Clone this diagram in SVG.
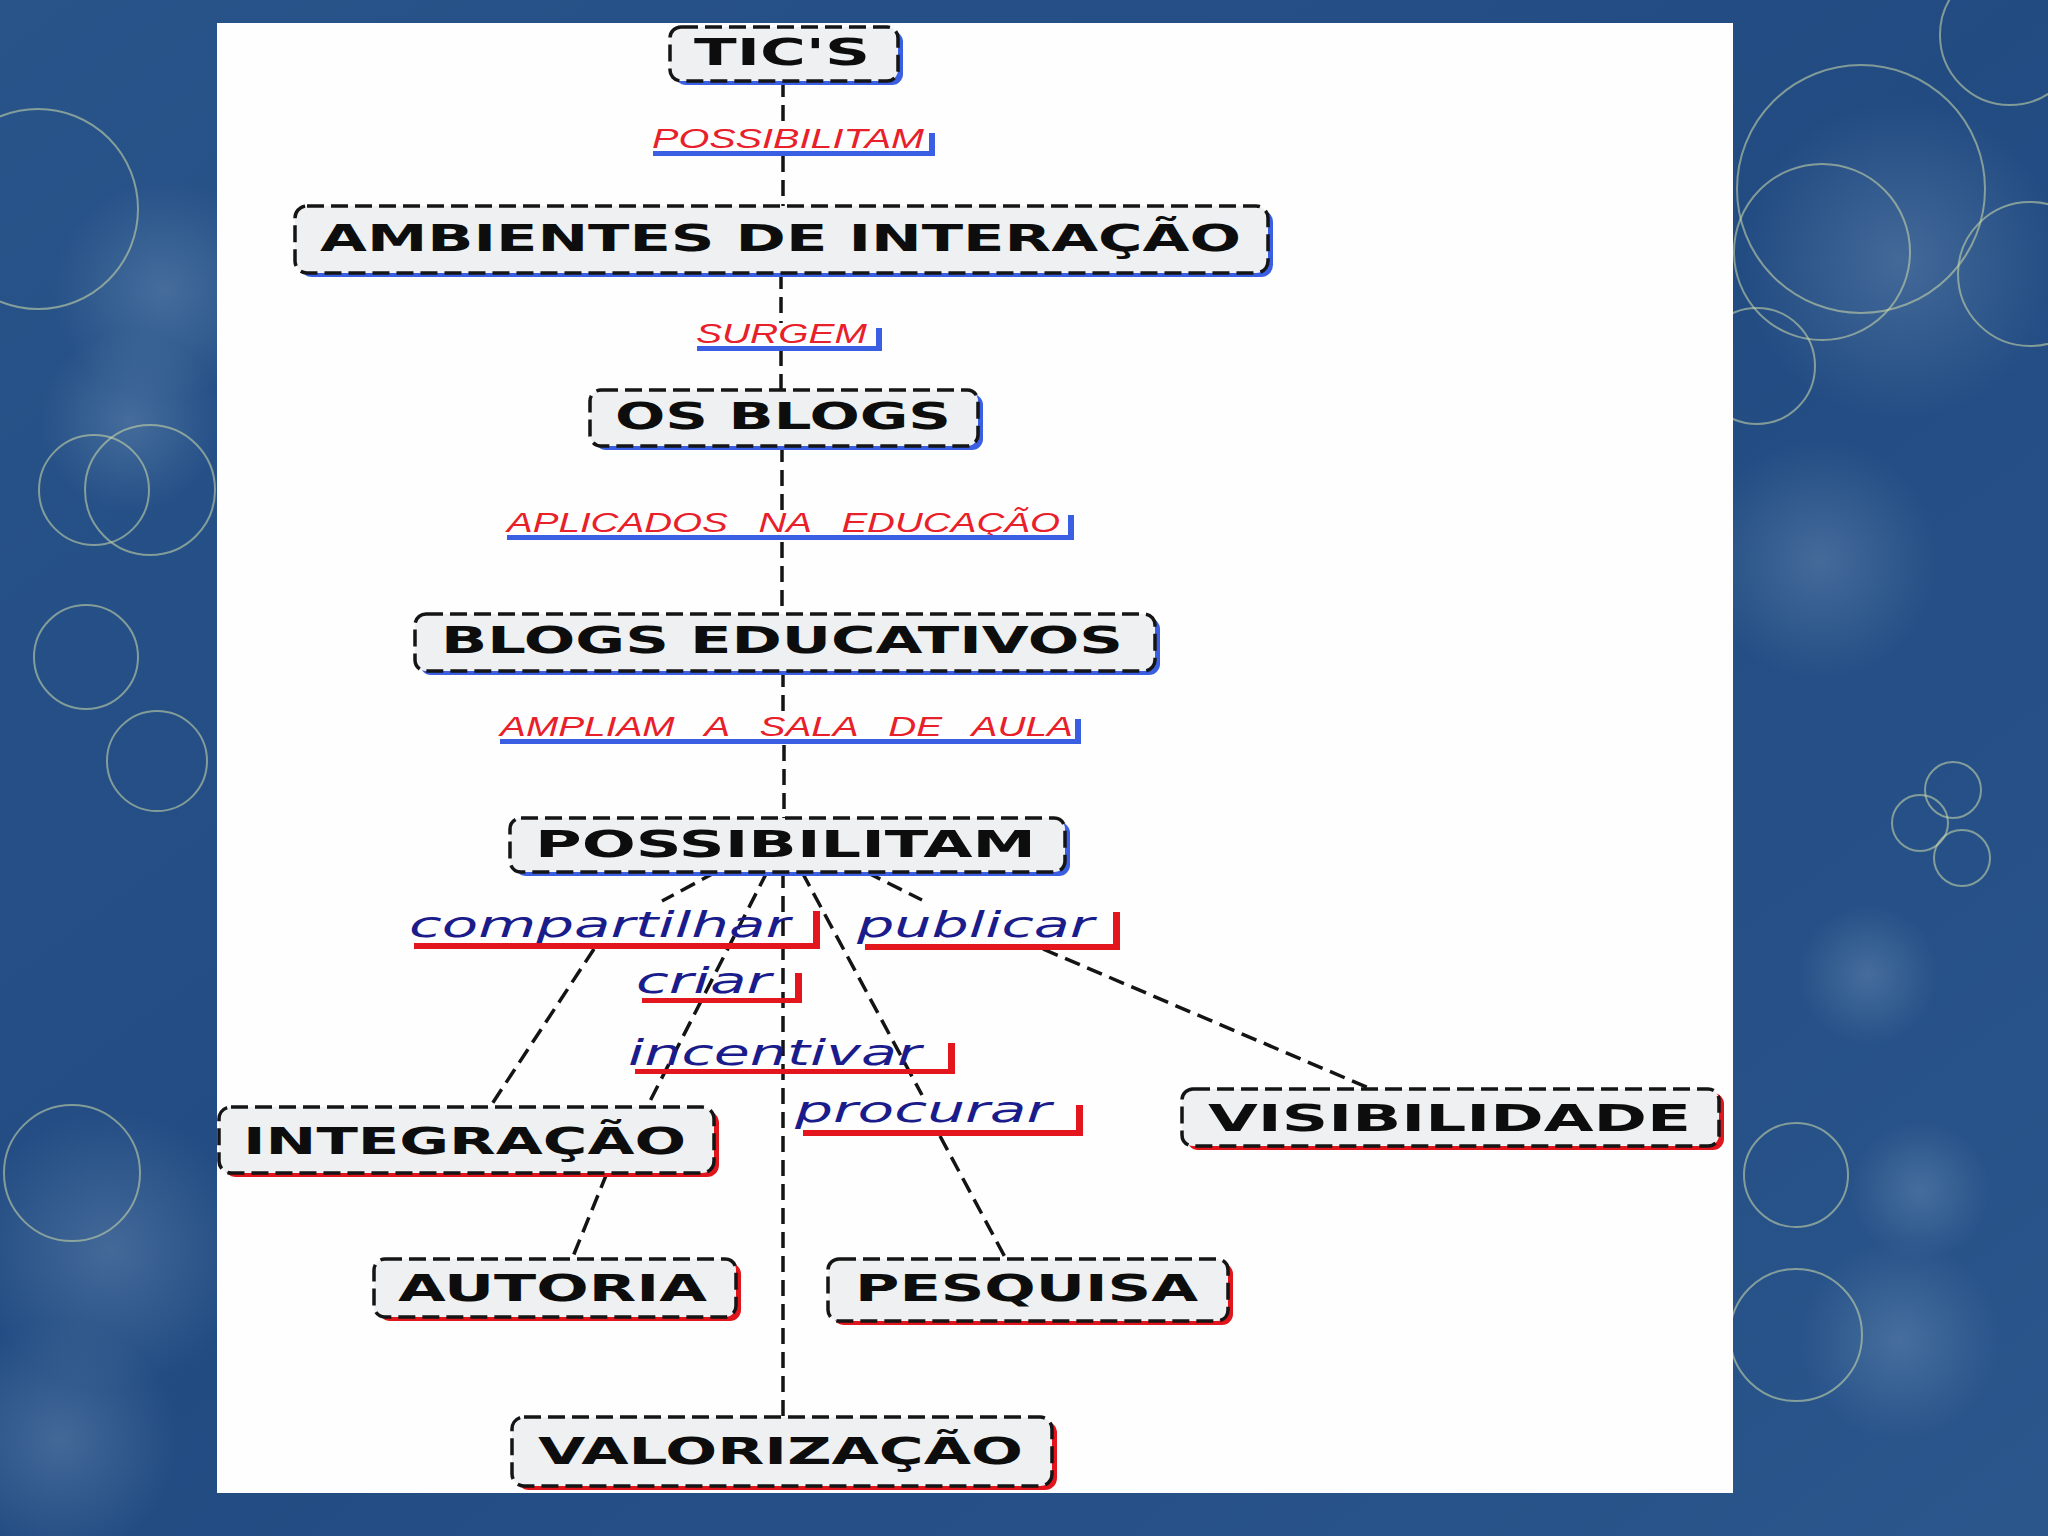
<svg xmlns="http://www.w3.org/2000/svg" width="2048" height="1536" viewBox="0 0 2048 1536">
<defs>
<linearGradient id="bg" x1="0" y1="0" x2="1" y2="1">
<stop offset="0" stop-color="#28548a"/>
<stop offset="0.5" stop-color="#224b82"/>
<stop offset="1" stop-color="#2a568c"/>
</linearGradient>
<radialGradient id="blob">
<stop offset="0" stop-color="#7f9fc0" stop-opacity="0.35"/>
<stop offset="1" stop-color="#7f9fc0" stop-opacity="0"/>
</radialGradient>
<style>
.ring{fill:none;stroke:#cfdcaa;stroke-opacity:0.55;stroke-width:2}
.soft{fill:url(#blob)}
.box{fill:#eef0f1;stroke:#151515;stroke-width:3.5;stroke-dasharray:17 7}
.shb{fill:#3a5fe3}
.shr{fill:#e0161c}
.nt{font-family:"DejaVu Sans",Verdana,sans-serif;font-weight:bold;font-size:37px;fill:#0d0d0d}
.lt{font-family:"Liberation Sans",Arial,sans-serif;font-style:italic;font-size:27px;fill:#e8202a}
.lb{font-family:"DejaVu Sans",Verdana,sans-serif;font-style:oblique;font-size:36px;fill:#1b1c8c}
.ulb{fill:#3a5fe3}
.ulr{fill:#e3161d}
.cn{stroke:#141414;stroke-width:3.5;stroke-dasharray:16 8;fill:none}
</style>
</defs>

<g id="background">
<rect x="0" y="0" width="2048" height="1536" fill="url(#bg)"/>
<circle class="soft" cx="163" cy="290" r="110"/>
<circle class="soft" cx="130" cy="420" r="90"/>
<circle class="soft" cx="110" cy="1250" r="140"/>
<circle class="soft" cx="60" cy="1440" r="120"/>
<circle class="soft" cx="1900" cy="260" r="160"/>
<circle class="soft" cx="1820" cy="560" r="120"/>
<circle class="soft" cx="1868" cy="975" r="70"/>
<circle class="soft" cx="1920" cy="1190" r="70"/>
<circle class="soft" cx="1900" cy="1340" r="100"/>
<circle class="ring" cx="38" cy="209" r="100"/>
<circle class="ring" cx="94" cy="490" r="55"/>
<circle class="ring" cx="150" cy="490" r="65"/>
<circle class="ring" cx="86" cy="657" r="52"/>
<circle class="ring" cx="157" cy="761" r="50"/>
<circle class="ring" cx="72" cy="1173" r="68"/>
<circle class="ring" cx="1861" cy="189" r="124"/>
<circle class="ring" cx="1822" cy="252" r="88"/>
<circle class="ring" cx="1757" cy="366" r="58"/>
<circle class="ring" cx="2030" cy="274" r="72"/>
<circle class="ring" cx="2010" cy="35" r="70"/>
<circle class="ring" cx="1953" cy="790" r="28"/>
<circle class="ring" cx="1920" cy="823" r="28"/>
<circle class="ring" cx="1962" cy="858" r="28"/>
<circle class="ring" cx="1796" cy="1175" r="52"/>
<circle class="ring" cx="1796" cy="1335" r="66"/>
<rect x="217" y="23" width="1516" height="1470" fill="#fefefe"/>
</g>

<g id="connectors">
<line class="cn" x1="783" y1="81" x2="783" y2="129"/>
<line class="cn" x1="783" y1="156" x2="783" y2="206"/>
<line class="cn" x1="781" y1="273" x2="781" y2="323"/>
<line class="cn" x1="781" y1="350" x2="781" y2="390"/>
<line class="cn" x1="782" y1="446" x2="782" y2="511"/>
<line class="cn" x1="782" y1="542" x2="782" y2="614"/>
<line class="cn" x1="783" y1="671" x2="783" y2="717"/>
<line class="cn" x1="784" y1="745" x2="784" y2="818"/>
<line class="cn" x1="716" y1="872" x2="662" y2="901"/>
<line class="cn" x1="594" y1="949" x2="490" y2="1107"/>
<line class="cn" x1="767" y1="872" x2="647" y2="1107"/>
<line class="cn" x1="783" y1="872" x2="783" y2="1417"/>
<line class="cn" x1="802" y1="872" x2="922" y2="1095"/>
<line class="cn" x1="940" y1="1136" x2="1006" y2="1259"/>
<line class="cn" x1="866" y1="872" x2="922" y2="900"/>
<line class="cn" x1="1043" y1="949" x2="1371" y2="1089"/>
<line class="cn" x1="607" y1="1173" x2="572" y2="1259"/>
</g>

<g id="lbl-possibilitam">
<text class="lt" x="652" y="148" textLength="272" lengthAdjust="spacingAndGlyphs">POSSIBILITAM</text>
<rect class="ulb" x="653" y="151" width="282" height="5"/>
<rect class="ulb" x="929" y="133" width="6" height="23"/>
</g>
<g id="lbl-surgem">
<text class="lt" x="696" y="343" textLength="171" lengthAdjust="spacingAndGlyphs">SURGEM</text>
<rect class="ulb" x="697" y="346" width="185" height="5"/>
<rect class="ulb" x="876" y="328" width="6" height="23"/>
</g>
<g id="lbl-aplicados">
<text class="lt" x="507" y="532" textLength="553" lengthAdjust="spacingAndGlyphs" word-spacing="14">APLICADOS NA EDUCAÇÃO</text>
<rect class="ulb" x="507" y="535" width="567" height="5"/>
<rect class="ulb" x="1068" y="515" width="6" height="25"/>
</g>
<g id="lbl-ampliam">
<text class="lt" x="500" y="736" textLength="573" lengthAdjust="spacingAndGlyphs" word-spacing="14">AMPLIAM A SALA DE AULA</text>
<rect class="ulb" x="500" y="739" width="581" height="5"/>
<rect class="ulb" x="1075" y="719" width="6" height="25"/>
</g>

<g id="lbl-compartilhar">
<text class="lb" x="409" y="937" textLength="381" lengthAdjust="spacingAndGlyphs">compartilhar</text>
<rect class="ulr" x="414" y="943" width="406" height="6"/>
<rect class="ulr" x="813" y="911" width="7" height="38"/>
</g>
<g id="lbl-publicar">
<text class="lb" x="857" y="937" textLength="237" lengthAdjust="spacingAndGlyphs">publicar</text>
<rect class="ulr" x="865" y="944" width="255" height="6"/>
<rect class="ulr" x="1113" y="912" width="7" height="38"/>
</g>
<g id="lbl-criar">
<text class="lb" x="636" y="993" textLength="135" lengthAdjust="spacingAndGlyphs">criar</text>
<rect class="ulr" x="642" y="998" width="160" height="5"/>
<rect class="ulr" x="795" y="973" width="7" height="30"/>
</g>
<g id="lbl-incentivar">
<text class="lb" x="628" y="1065" textLength="293" lengthAdjust="spacingAndGlyphs">incentivar</text>
<rect class="ulr" x="635" y="1069" width="320" height="5"/>
<rect class="ulr" x="948" y="1043" width="7" height="31"/>
</g>
<g id="lbl-procurar">
<text class="lb" x="795" y="1122" textLength="256" lengthAdjust="spacingAndGlyphs">procurar</text>
<rect class="ulr" x="803" y="1130" width="280" height="6"/>
<rect class="ulr" x="1076" y="1105" width="7" height="31"/>
</g>

<g id="node-tics">
<rect class="shb" x="675" y="31" width="228" height="54" rx="11"/>
<rect class="box" x="670" y="27" width="228" height="54" rx="11"/>
<text class="nt" x="694" y="65" textLength="176" lengthAdjust="spacingAndGlyphs">TIC'S</text>
</g>
<g id="node-ambientes">
<rect class="shb" x="300" y="210" width="973" height="67" rx="12"/>
<rect class="box" x="295" y="206" width="973" height="67" rx="12"/>
<text class="nt" x="320" y="251" textLength="921" lengthAdjust="spacingAndGlyphs">AMBIENTES DE INTERAÇÃO</text>
</g>
<g id="node-osblogs">
<rect class="shb" x="595" y="394" width="388" height="56" rx="11"/>
<rect class="box" x="590" y="390" width="388" height="56" rx="11"/>
<text class="nt" x="615" y="429" textLength="336" lengthAdjust="spacingAndGlyphs">OS BLOGS</text>
</g>
<g id="node-blogseducativos">
<rect class="shb" x="420" y="618" width="740" height="57" rx="11"/>
<rect class="box" x="415" y="614" width="740" height="57" rx="11"/>
<text class="nt" x="441" y="653" textLength="682" lengthAdjust="spacingAndGlyphs">BLOGS EDUCATIVOS</text>
</g>
<g id="node-possibilitam">
<rect class="shb" x="515" y="822" width="555" height="54" rx="11"/>
<rect class="box" x="510" y="818" width="555" height="54" rx="11"/>
<text class="nt" x="535" y="857" textLength="501" lengthAdjust="spacingAndGlyphs">POSSIBILITAM</text>
</g>
<g id="node-integracao">
<rect class="shr" x="224" y="1111" width="495" height="66" rx="12"/>
<rect class="box" x="219" y="1107" width="495" height="66" rx="12"/>
<text class="nt" x="243" y="1154" font-size="39" textLength="443" lengthAdjust="spacingAndGlyphs">INTEGRAÇÃO</text>
</g>
<g id="node-visibilidade">
<rect class="shr" x="1187" y="1093" width="537" height="57" rx="11"/>
<rect class="box" x="1182" y="1089" width="537" height="57" rx="11"/>
<text class="nt" x="1208" y="1131" textLength="483" lengthAdjust="spacingAndGlyphs">VISIBILIDADE</text>
</g>
<g id="node-autoria">
<rect class="shr" x="379" y="1263" width="362" height="58" rx="11"/>
<rect class="box" x="374" y="1259" width="362" height="58" rx="11"/>
<text class="nt" x="398" y="1301" textLength="309" lengthAdjust="spacingAndGlyphs">AUTORIA</text>
</g>
<g id="node-pesquisa">
<rect class="shr" x="833" y="1263" width="400" height="62" rx="11"/>
<rect class="box" x="828" y="1259" width="400" height="62" rx="11"/>
<text class="nt" x="855" y="1301" textLength="343" lengthAdjust="spacingAndGlyphs">PESQUISA</text>
</g>
<g id="node-valorizacao">
<rect class="shr" x="517" y="1421" width="540" height="69" rx="12"/>
<rect class="box" x="512" y="1417" width="540" height="69" rx="12"/>
<text class="nt" x="538" y="1464" font-size="39" textLength="485" lengthAdjust="spacingAndGlyphs">VALORIZAÇÃO</text>
</g>
</svg>
